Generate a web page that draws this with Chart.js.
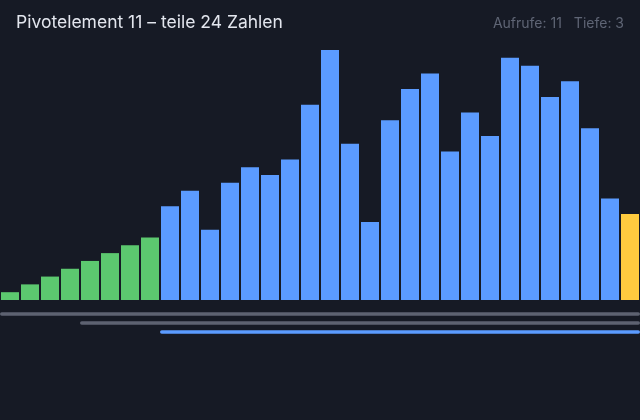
<!DOCTYPE html>
<html>
<head>
<meta charset="utf-8">
<script src="https://cdn.jsdelivr.net/npm/chart.js@4/dist/chart.umd.min.js"></script>
<style>
html,body{margin:0;padding:0;background:#161a25;}
canvas{display:block;}
</style>
</head>
<body>
<canvas id="c" width="640" height="420"></canvas>
<script>
// ---- data ----
const indices = Array.from({length: 32}, (_, i) => String(i));
const values = [1,2,3,4,5,6,7,8,12,14,9,15,17,16,18,25,32,20,10,23,27,29,19,24,21,31,30,26,28,22,13,11];
const sortedCount = 8;          // green (already placed)
const pivotIndex = 31;          // yellow
const ranges = [[0,31],[4,31],[8,31]]; // recursion stack, last = active
const titleText = "Pivotelement 11 \u2013 teile 24 Zahlen";
const callsText = "Aufrufe: 11";
const depthText = "Tiefe: 3";

const GREEN = '#5cc86f', BLUE = '#5b9bff', YELLOW = '#ffcb3f', GRAY = '#5d6271';
const colors = values.map((v, i) => i === pivotIndex ? YELLOW : (i < sortedCount ? GREEN : BLUE));

const deco = {
  id: 'deco',
  beforeDraw(chart) {
    const ctx = chart.ctx;
    ctx.save();
    ctx.fillStyle = '#161a25';
    ctx.fillRect(0, 0, chart.width, chart.height);
    ctx.restore();
  },
  afterDraw(chart) {
    const ctx = chart.ctx, xs = chart.scales.x, area = chart.chartArea;
    const slot = xs.getPixelForValue(1) - xs.getPixelForValue(0);
    ctx.save();
    ctx.lineCap = 'round';
    ctx.lineWidth = 3.5;
    ranges.forEach((r, i) => {
      const x0 = xs.getPixelForValue(r[0]) - slot / 2 + 1.75;
      const x1 = xs.getPixelForValue(r[1]) + slot / 2 - 1.75;
      const y = area.bottom + 14 + i * 9;
      ctx.strokeStyle = i === ranges.length - 1 ? BLUE : GRAY;
      ctx.beginPath();
      ctx.moveTo(x0, y);
      ctx.lineTo(x1, y);
      ctx.stroke();
    });
    // texts
    ctx.textBaseline = 'alphabetic';
    ctx.font = '17.5px Inter';
    ctx.fillStyle = '#e3e6ee';
    ctx.textAlign = 'left';
    ctx.fillText(titleText, 16, 28);
    ctx.font = '14px Inter';
    ctx.fillStyle = '#5f6575';
    ctx.textAlign = 'right';
    ctx.fillText(depthText, 624, 28);
    const w = ctx.measureText(depthText).width;
    ctx.fillText(callsText, 624 - w - 12, 28);
    ctx.restore();
  }
};

new Chart(document.getElementById('c'), {
  type: 'bar',
  data: {
    labels: indices,
    datasets: [{
      data: values,
      backgroundColor: colors,
      borderWidth: 0,
      barPercentage: 0.9,
      categoryPercentage: 1.0
    }]
  },
  options: {
    responsive: false,
    animation: false,
    devicePixelRatio: 1,
    layout: { padding: { top: 50, bottom: 120, left: 0, right: 0 } },
    plugins: { legend: { display: false }, tooltip: { enabled: false }, title: { display: false } },
    scales: {
      x: { display: false, offset: true },
      y: { display: false, min: 0, max: 32 }
    }
  },
  plugins: [deco]
});
</script>
</body>
</html>
